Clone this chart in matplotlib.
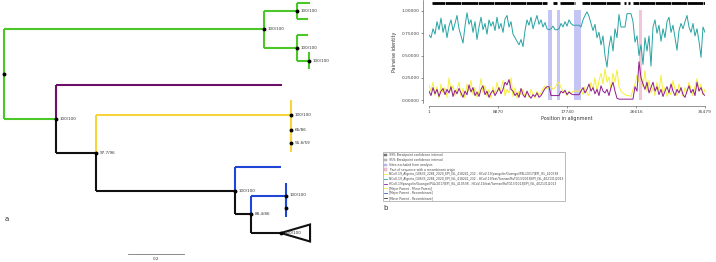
import matplotlib
matplotlib.use("Agg")
import matplotlib.pyplot as plt
import numpy as np
from matplotlib.lines import Line2D
from matplotlib.patches import Patch, Polygon

# ---------------- data: panel b (RDP pairwise identity) ----------------
SEQ_LEN = 35479
X_TICKS = [1, 8870, 17740, 26616, 35479]
Y_TICKS = [0.0, 0.25, 0.5, 0.75, 1.0]

teal = [
    0.73, 0.70, 0.80, 0.74, 0.88, 0.79, 0.92, 0.76,
    0.85, 0.70, 0.83, 0.90, 0.78, 0.86, 0.95, 0.80,
    0.72, 0.64, 0.83, 0.98, 0.85, 0.90, 0.76, 0.88,
    0.68, 0.82, 0.93, 0.79, 0.86, 0.74, 0.90, 0.83,
    0.88, 0.78, 0.93, 0.80, 0.86, 0.76, 0.91, 0.95,
    0.82, 0.88, 0.74, 0.70, 0.66, 0.62, 0.68, 0.60,
    0.78, 0.90, 0.84, 0.93, 0.80, 0.88, 0.95, 0.85,
    0.90, 0.82, 0.87, 0.80, 0.79, 0.80, 0.83, 0.79,
    0.79, 0.80, 0.86, 0.82, 0.88, 0.83, 0.90, 0.86,
    0.84, 0.84, 0.84, 0.84, 0.82, 0.90, 0.95, 0.99,
    0.94, 0.86, 0.78, 0.85, 0.70, 0.76, 0.62, 0.72,
    0.50, 0.37, 0.60, 0.72, 0.55, 0.80, 0.70, 0.96,
    0.82, 0.82, 0.82, 0.97, 0.97, 0.97, 0.88, 0.65,
    0.72, 0.50, 0.62, 0.40, 0.70, 0.55, 0.72, 0.38,
    0.82, 0.90, 0.75, 0.84, 0.66, 0.80, 0.70, 0.88,
    0.93, 0.76, 0.84, 0.70, 0.56, 0.78, 0.86, 0.80,
    0.88, 0.95, 0.82, 0.76, 0.86, 0.72, 0.80, 0.66,
    0.48, 0.82, 0.76,
]
yellow = [
    0.17, 0.10, 0.20, 0.05, 0.15, 0.02, 0.18, 0.08,
    0.14, 0.03, 0.25, 0.10, 0.16, 0.05, 0.12, 0.20,
    0.04, 0.13, 0.02, 0.18, 0.10, 0.22, 0.06, 0.14,
    0.03, 0.10, 0.24, 0.08, 0.16, 0.04, 0.12, 0.02,
    0.15, 0.06, 0.20, 0.10, 0.13, 0.22, 0.05, 0.12,
    0.08, 0.25, 0.04, 0.14, 0.02, 0.10, 0.06, 0.12,
    0.04, 0.09, 0.03, 0.12, 0.06, 0.02, 0.10, 0.05,
    0.08, 0.13, 0.16, 0.12, 0.15, 0.15, 0.12, 0.14,
    0.18, 0.20, 0.14, 0.10, 0.08, 0.05, 0.10, 0.07,
    0.10, 0.10, 0.10, 0.10, 0.12, 0.06, 0.15, 0.08,
    0.05, 0.20, 0.12, 0.25, 0.10, 0.22, 0.30, 0.18,
    0.35, 0.20, 0.26, 0.12, 0.30, 0.20, 0.34, 0.15,
    0.10, 0.08, 0.06, 0.05, 0.05, 0.04, 0.12, 0.18,
    0.28, 0.20, 0.30, 0.15, 0.33, 0.10, 0.22, 0.08,
    0.14, 0.05, 0.20, 0.10, 0.28, 0.08, 0.14, 0.04,
    0.10, 0.06, 0.22, 0.12, 0.05, 0.18, 0.10, 0.04,
    0.14, 0.08, 0.20, 0.12, 0.05, 0.16, 0.24, 0.10,
    0.18, 0.06, 0.12,
]
purple = [
    0.10, 0.05, 0.14, 0.07, 0.12, 0.04, 0.10, 0.13,
    0.06, 0.12, 0.08, 0.15, 0.04, 0.11, 0.07, 0.13,
    0.08, 0.03, 0.10, 0.06, 0.17, 0.09, 0.14, 0.05,
    0.09, 0.04, 0.12, 0.16, 0.06, 0.10, 0.03, 0.08,
    0.11, 0.05, 0.09, 0.14, 0.07, 0.12, 0.20, 0.17,
    0.23, 0.12, 0.10, 0.05, 0.08, 0.03, 0.13, 0.06,
    0.03, 0.10, 0.05, 0.02, 0.06, 0.04, 0.08, 0.03,
    0.05, 0.09, 0.13, 0.15, 0.15, 0.05, 0.05, 0.05,
    0.05, 0.05, 0.10, 0.08, 0.11, 0.06, 0.09, 0.07,
    0.06, 0.06, 0.06, 0.06, 0.10, 0.14, 0.08, 0.12,
    0.18, 0.10, 0.14, 0.07, 0.12, 0.05, 0.16, 0.10,
    0.08, 0.12, 0.05, 0.14, 0.20, 0.10, 0.02, 0.01,
    0.01, 0.01, 0.01, 0.01, 0.01, 0.01, 0.01, 0.15,
    0.10, 0.43, 0.25, 0.18, 0.12, 0.20, 0.08, 0.14,
    0.20, 0.10, 0.15, 0.06, 0.12, 0.04, 0.10, 0.15,
    0.08, 0.18, 0.10, 0.05, 0.12, 0.08, 0.14, 0.06,
    0.03, 0.10, 0.16, 0.08, 0.12, 0.05, 0.20, 0.10,
    0.14, 0.07, 0.05,
]

excluded_sites = [(15335, 15770), (16415, 16840), (18640, 19500)]
recombinant_tract = [(27030, 27380)]
analysed_blocks = [(345, 15130), (15980, 16410), (16840, 18770), (19620, 24550),
                   (25110, 25280), (25620, 25840), (26260, 35479)]

legend_labels = [
    "99% Breakpoint confidence interval",
    "95% Breakpoint confidence interval",
    "Sites excluded from analysis",
    "Tract of sequence with a recombinant origin",
    "NCoV-19_Algeria_G0633_2284_2020_EPI_ISL_418241_232 - HCoV-19/pangolin/Guangxi/P4L/2017|EPI_ISL_410538",
    "NCoV-19_Algeria_G0633_2284_2020_EPI_ISL_418241_232 - HCoV-19/bat/Yunnan/RaTG13/2013|EPI_ISL_402131|2013",
    "HCoV-19/pangolin/Guangxi/P4L/2017|EPI_ISL_410538 - HCoV-19/bat/Yunnan/RaTG13/2013|EPI_ISL_402131|2013",
    "[Major Parent - Minor Parent]",
    "[Major Parent - Recombinant]",
    "[Minor Parent - Recombinant]",
]

# ---------------- data: panel a (tree) ----------------
# (branch_length, colour, support_label, children | leaf_row)
GREEN, PURPLE, YELLOW, BLUE, BLACK = "#4cc72a", "#6b0f6b", "#f7d43c", "#1f46d6", "#111111"
tree = (0.0, GREEN, "", [
    (0.929, GREEN, "100/100", [
        (0.118, GREEN, "100/100", [(0.046, GREEN, None, 3), (0.039, GREEN, None, 19)]),
        (0.118, GREEN, "100/100", [
            (0.039, GREEN, None, 35),
            (0.043, GREEN, "100/100", [(0.0, GREEN, None, 52), (0.0, GREEN, None, 69)]),
        ]),
    ]),
    (0.186, GREEN, "100/100", [
        (0.807, PURPLE, None, 85),
        (0.143, BLACK, "97.7/96", [
            (0.696, YELLOW, "100/100", [
                (0.0, YELLOW, None, 100),
                (0.0, YELLOW, "65/86", [
                    (0.0, YELLOW, None, 117),
                    (0.0, YELLOW, "55.8/59", [(0.0, YELLOW, None, 134), (0.0, YELLOW, None, 152)]),
                ]),
            ]),
            (0.496, BLACK, "100/100", [
                (0.164, BLUE, None, 167),
                (0.057, BLACK, "88.4/86", [
                    (0.125, BLUE, "100/100", [
                        (0.0, BLUE, None, 183),
                        (0.0, BLUE, "", [(0.0, BLUE, None, 199), (0.0, BLUE, None, 217)]),
                    ]),
                    (0.107, BLACK, "100/100", "collapsed"),
                ]),
            ]),
        ]),
    ]),
])
COLLAPSED_ROW, COLLAPSED_DEPTH, COLLAPSED_HALF = 233, 0.104, 8.5

fig = plt.figure(figsize=(7.16, 2.62), dpi=100)
W, H = 716, 262

# ---------------- panel a ----------------
axt = fig.add_axes([0, 0, 335 / W, 1])
axt.set_xlim(-4 / 280, 331 / 280)
axt.set_ylim(H, 0)
axt.axis("off")

node_pos = {}


def layout(node, x0):
    bl, col, lab, kids = node
    x = x0 + bl
    if isinstance(kids, list):
        ys = [layout(k, x) for k in kids]
        y = (ys[0] + ys[-1]) / 2
    elif kids == "collapsed":
        y = COLLAPSED_ROW
        axt.add_patch(Polygon([(x, y), (x + COLLAPSED_DEPTH, y - COLLAPSED_HALF),
                               (x + COLLAPSED_DEPTH, y + COLLAPSED_HALF)],
                              closed=True, fill=False, ec=BLACK, lw=1.5))
    else:
        y = kids
    node_pos[id(node)] = (x, y)
    return y


def draw_edges(node):
    bl, col, lab, kids = node
    x, y = node_pos[id(node)]
    if isinstance(kids, list):
        for k in kids:
            kx, ky = node_pos[id(k)]
            axt.plot([x, x], [y, ky], color=k[1], lw=1.5, solid_capstyle="butt", zorder=2)
            axt.plot([x, kx], [ky, ky], color=k[1], lw=1.5, solid_capstyle="butt", zorder=2)
            draw_edges(k)
    if lab is not None:
        axt.plot(x, y, "o", ms=1.8, color="black", zorder=3)
        if lab:
            axt.text(x + 0.012, y, lab, fontsize=3, color="#333333", va="center", ha="left", zorder=4)


layout(tree, 0.0)
draw_edges(tree)

axt.plot([124 / 280, 180 / 280], [254, 254], color="#777777", lw=0.6)
axt.text(152 / 280, 259, "0.2", fontsize=3, color="#333333", ha="center", va="center")
fig.text(5 / W, 1 - 219 / H, "a", fontsize=5, color="#333333", va="center")
fig.text(383 / W, 1 - 208 / H, "b", fontsize=5, color="#333333", va="center")

# ---------------- panel b ----------------
ax = fig.add_axes([429 / W, 1 - 102.7 / H, 276 / W, 102.4 / H])
pos = np.linspace(1, SEQ_LEN, len(teal))
for a, b in excluded_sites:
    ax.fill_betweenx([-0.005, 1.015], a, b, color="#c5c5f5", lw=0, zorder=1)
for a, b in recombinant_tract:
    ax.fill_betweenx([-0.005, 1.015], a, b, color="#f2c6d8", lw=0, zorder=1)
ax.plot(pos, yellow, color="#f5f03a", lw=0.7, zorder=2)
ax.plot(pos, purple, color="#8e1b8e", lw=0.7, zorder=3)
ax.plot(pos, teal, color="#26a3a3", lw=0.7, zorder=3)
for a, b in analysed_blocks:
    ax.plot([a, b], [1.09, 1.09], color="black", lw=2.0, solid_capstyle="butt")
tick_marks = np.arange(2100, SEQ_LEN, 2070)
ax.vlines(tick_marks, 1.07, 1.11, color="white", lw=0.4)

ax.set_xlim(1, SEQ_LEN)
ax.set_ylim(-0.03, 1.12)
ax.set_xticks(X_TICKS)
ax.set_xticklabels([str(t) for t in X_TICKS])
ax.set_yticks(Y_TICKS)
ax.set_yticklabels([f"{t:.5f}" for t in Y_TICKS])
ax.tick_params(labelsize=3.2, colors="#444444", length=1.5, width=0.4, pad=1)
ax.spines["top"].set_visible(False)
ax.spines["right"].set_visible(False)
ax.spines["left"].set_position(("outward", 4.3))
ax.spines["bottom"].set_position(("outward", 2.4))
for s in ("left", "bottom"):
    ax.spines[s].set_linewidth(0.4)
    ax.spines[s].set_color("#444444")
ax.set_xlabel("Position in alignment", fontsize=3.5, color="#333333", labelpad=2)
ax.set_ylabel("Pairwise identity", fontsize=3.5, color="#333333", labelpad=3)

handles = [
    Patch(fc="#888888", ec="#555555", lw=0.3),
    Patch(fc="#cccccc", ec="#888888", lw=0.3),
    Patch(fc="#c5c5f5", ec="#9999cc", lw=0.3),
    Patch(fc="#f2c6d8", ec="#cc99aa", lw=0.3),
    Line2D([], [], color="#f5f03a", lw=0.6),
    Line2D([], [], color="#26a3a3", lw=0.6),
    Line2D([], [], color="#8e1b8e", lw=0.6),
    Line2D([], [], color="#f5f03a", lw=0.6),
    Line2D([], [], color="#3060c0", lw=0.6),
    Line2D([], [], color="#333333", lw=0.6),
]
leg = fig.legend(handles, legend_labels, loc="upper left",
                 bbox_to_anchor=(383 / W, 1 - 152 / H), fontsize=2.2, frameon=True,
                 fancybox=False, edgecolor="#888888", borderpad=0.4, handlelength=1.0,
                 handleheight=0.8, labelspacing=0.25, handletextpad=0.6, borderaxespad=0)
leg.get_frame().set_linewidth(0.5)
for t in leg.get_texts():
    t.set_color("#444444")

fig.savefig("out.png", dpi=100)
